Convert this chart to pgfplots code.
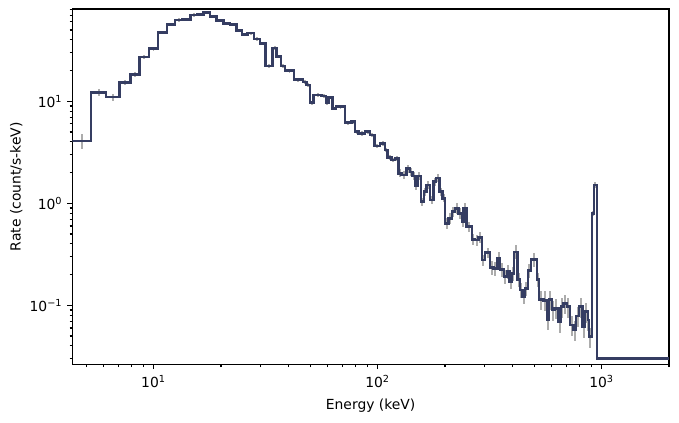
\documentclass[border=0pt]{standalone}
\usepackage{fontspec}
\setmainfont{DejaVu Sans}
\usepackage{pgfplots}
\usepackage{pgfplotstable}
\pgfplotsset{compat=1.18}
\definecolor{specline}{RGB}{53,61,98}
\definecolor{errgray}{RGB}{172,172,172}

% bin edges (keV), rate (count/s-keV), relative error
\pgfplotstableread{
lo hi rate err
4.34 5.26 4.08 0.16
5.26 6.14 12.14 0.08
6.14 7.04 11.02 0.08
7.04 7.88 15.36 0.06
7.88 8.68 18.23 0.06
8.68 9.55 27.19 0.05
9.55 10.47 32.79 0.05
10.47 11.49 47.05 0.035
11.49 12.47 56.88 0.035
12.47 13.50 62.68 0.035
13.50 14.60 63.67 0.035
14.60 15.64 70.2 0.035
15.64 16.68 70.9 0.035
16.68 17.87 73.9 0.035
17.87 19.15 67.5 0.035
19.15 20.49 62.25 0.035
20.49 21.96 58.2 0.035
21.96 23.52 56.4 0.035
23.52 24.77 49.7 0.035
24.77 26.24 45.0 0.035
26.24 28.10 46.7 0.035
28.10 29.89 40.8 0.035
29.89 31.69 36.7 0.035
31.69 34.05 22.2 0.04
34.05 35.48 33.5 0.04
35.48 37.09 27.4 0.04
37.09 38.64 22.3 0.04
38.64 42.38 19.95 0.04
42.38 46.36 16.29 0.04
46.36 48.30 15.46 0.04
48.30 49.97 14.45 0.04
49.97 51.69 9.69 0.04
51.69 56.36 11.53 0.04
56.36 58.90 11.27 0.04
58.90 60.31 9.69 0.04
60.31 63.10 10.95 0.04
63.10 65.27 8.54 0.04
65.27 71.58 8.85 0.04
71.58 76.69 6.17 0.05
76.69 79.35 6.31 0.05
79.35 82.10 5.04 0.05
82.10 87.97 4.86 0.05
87.97 92.60 5.04 0.05
92.60 96.76 4.67 0.05
96.76 102.6 3.65 0.05
102.6 108.0 3.87 0.05
108.0 110.6 3.33 0.05
110.6 115.7 2.82 0.05
115.7 119.7 2.66 0.05
119.7 123.9 2.76 0.05
123.9 128.2 1.97 0.09
128.2 135.0 1.89 0.09
135.0 139.7 2.20 0.09
139.7 143.6 2.03 0.09
143.6 147.1 1.85 0.09
147.1 150.6 1.48 0.09
150.6 156.0 1.85 0.09
156.0 161.3 1.04 0.09
161.3 165.8 1.30 0.09
165.8 171.6 1.51 0.09
171.6 177.5 1.08 0.09
177.5 182.5 1.63 0.09
182.5 188.8 1.78 0.09
188.8 194.7 1.30 0.09
194.7 200.2 1.12 0.09
200.2 207.1 0.637 0.12
207.1 214.5 0.713 0.12
214.5 221.8 0.827 0.12
221.8 229.5 0.893 0.12
229.5 237.7 0.798 0.12
237.7 241.5 0.660 0.12
241.5 250.1 0.893 0.12
250.1 263.4 0.590 0.12
263.4 272.5 0.444 0.12
272.5 281.8 0.437 0.12
281.8 291.9 0.464 0.12
291.9 301.9 0.278 0.12
301.9 317.8 0.328 0.12
317.8 328.9 0.236 0.16
328.9 342.6 0.2305 0.16
342.6 352.3 0.289 0.16
352.3 367.1 0.2254 0.16
367.1 377.4 0.1907 0.16
377.4 387.6 0.2135 0.16
387.6 397.3 0.1703 0.16
397.3 406.8 0.206 0.16
406.8 420.9 0.335 0.16
420.9 432.8 0.1799 0.16
432.8 443.1 0.1413 0.16
443.1 455.6 0.1215 0.16
455.6 468.4 0.1468 0.16
468.4 484.6 0.2184 0.16
484.6 513.8 0.2825 0.16
513.8 526.0 0.1799 0.16
526.0 549.8 0.1145 0.22
549.8 569.4 0.112 0.22
569.4 582.9 0.0729 0.22
582.9 599.4 0.1145 0.22
599.4 615.6 0.0899 0.22
615.6 641.4 0.0935 0.22
641.4 659.5 0.0691 0.22
659.5 675.3 0.0969 0.22
675.3 699.3 0.1046 0.22
699.3 723.5 0.0969 0.22
723.5 748.4 0.0641 0.22
748.4 769.5 0.0573 0.22
769.5 793.6 0.0785 0.22
793.6 821.0 0.0969 0.22
821.0 844.1 0.0617 0.22
844.1 867.9 0.0866 0.22
867.9 879.6 0.0718 0.22
879.6 904.3 0.0492 0.22
904.3 925.8 0.798 0.06
925.8 951.9 1.51 0.06
951.9 2000 0.0302 0.03
2000 2000 0.0302 0
}\spectrum

\begin{document}
\begin{tikzpicture}
\begin{axis}[
  at={(0,0)}, anchor=south west,
  scale only axis, width=429.6pt, height=255.8pt,
  xmode=log, ymode=log,
  xmin=4.34, xmax=2000, ymin=0.0264, ymax=80.3,
  axis line style={line width=0.8pt},
  every tick/.style={black, line width=0.8pt},
  tick align=outside, major tick length=3.5pt, minor tick length=2pt,
  tick pos=left,
  xtick={10,100,1000},
  xticklabels={10\textsuperscript{1},10\textsuperscript{2},10\textsuperscript{3}},
  minor xtick={5,6,7,8,9,20,30,40,50,60,70,80,90,200,300,400,500,600,700,800,900,2000},
  ytick={0.1,1,10},
  yticklabels={10\textsuperscript{−1},10\textsuperscript{0},10\textsuperscript{1}},
  minor ytick={0.03,0.04,0.05,0.06,0.07,0.08,0.09,0.2,0.3,0.4,0.5,0.6,0.7,0.8,0.9,2,3,4,5,6,7,8,9,20,30,40,50,60,70,80},
  xticklabel style={inner sep=0pt, anchor=north, yshift=-4pt},
  yticklabel style={inner sep=0pt, anchor=east, xshift=-3.5pt},
  xlabel={Energy (keV)}, ylabel={Rate (count/s-keV)},
  xlabel style={at={(axis description cs:0.5,0)}, anchor=north, inner sep=0pt, yshift=-25pt},
  ylabel style={at={(axis description cs:0,0.5)}, anchor=south, inner sep=0pt, yshift=35.7pt},
]
\addplot[draw=none, mark=none, forget plot,
  error bars/.cd, y dir=both, y explicit relative, error mark=none,
  error bar style={draw=errgray, line width=1.4pt}]
  table[x expr={sqrt(\thisrow{lo}*\thisrow{hi})}, y=rate, y error=err] {\spectrum};
\addplot[specline, line width=1.8pt, const plot mark left, mark=none]
  table[x=lo, y=rate] {\spectrum};
\end{axis}
\path (-52.05pt,-41.55pt) rectangle (436.8pt,262.3pt);
\end{tikzpicture}
\end{document}
